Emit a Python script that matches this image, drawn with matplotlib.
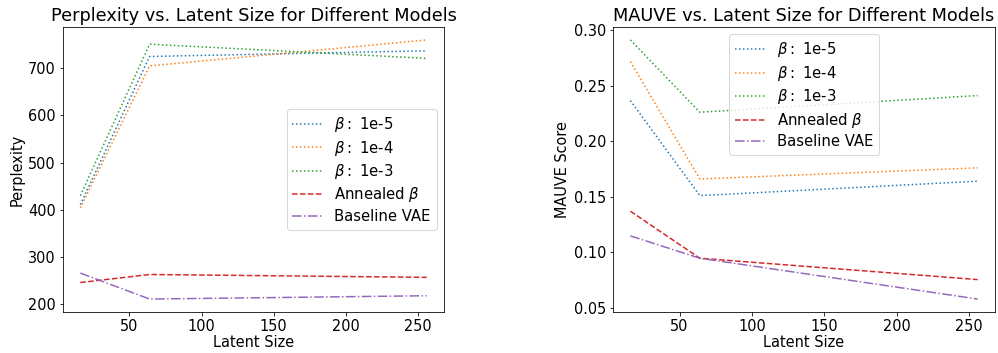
import numpy as np
import matplotlib
matplotlib.use('Agg')
import matplotlib.pyplot as plt

latent_sizes = [16, 64, 256]

ppl_beta_1e5 = [411, 725, 737]
ppl_beta_1e4 = [404, 705, 760]
ppl_beta_1e3 = [430, 751, 721]
ppl_annealed = [246, 263, 257]
ppl_baseline = [266, 211, 218]

mauve_beta_1e5 = [0.2365, 0.151, 0.164]
mauve_beta_1e4 = [0.2715, 0.166, 0.176]
mauve_beta_1e3 = [0.291, 0.226, 0.241]
mauve_annealed = [0.137, 0.0947, 0.0755]
mauve_baseline = [0.1148, 0.0947, 0.058]

labels = [r'$\beta:$ 1e-5', r'$\beta:$ 1e-4', r'$\beta:$ 1e-3', r'Annealed $\beta$', 'Baseline VAE']
styles = [':', ':', ':', '--', '-.']
colors = ['tab:blue', 'tab:orange', 'tab:green', 'tab:red', 'tab:purple']

plt.rcParams['font.size'] = 14.5

fig = plt.figure(figsize=(998 / 72, 353 / 72), dpi=72)
ax1 = fig.add_axes([63 / 998, 41 / 353, 381 / 998, 285 / 353])
ax2 = fig.add_axes([613 / 998, 41 / 353, 382 / 998, 285 / 353])

ppl = [ppl_beta_1e5, ppl_beta_1e4, ppl_beta_1e3, ppl_annealed, ppl_baseline]
mauve = [mauve_beta_1e5, mauve_beta_1e4, mauve_beta_1e3, mauve_annealed, mauve_baseline]

for vals, lab, ls, c in zip(ppl, labels, styles, colors):
    ax1.plot(latent_sizes, vals, linestyle=ls, color=c, label=lab)
for vals, lab, ls, c in zip(mauve, labels, styles, colors):
    ax2.plot(latent_sizes, vals, linestyle=ls, color=c, label=lab)

ax1.set_title('Perplexity vs. Latent Size for Different Models', fontsize=17.8)
ax1.set_xlabel('Latent Size', labelpad=1)
ax1.set_ylabel('Perplexity')
ax1.legend(loc='center right', fontsize=14.9, labelspacing=0.3)

ax2.set_title('MAUVE vs. Latent Size for Different Models', fontsize=17.8)
ax2.set_xlabel('Latent Size', labelpad=1)
ax2.set_ylabel('MAUVE Score')
ax2.legend(loc='upper center', fontsize=14.9, labelspacing=0.3)

fig.savefig('out.png', dpi=72)
